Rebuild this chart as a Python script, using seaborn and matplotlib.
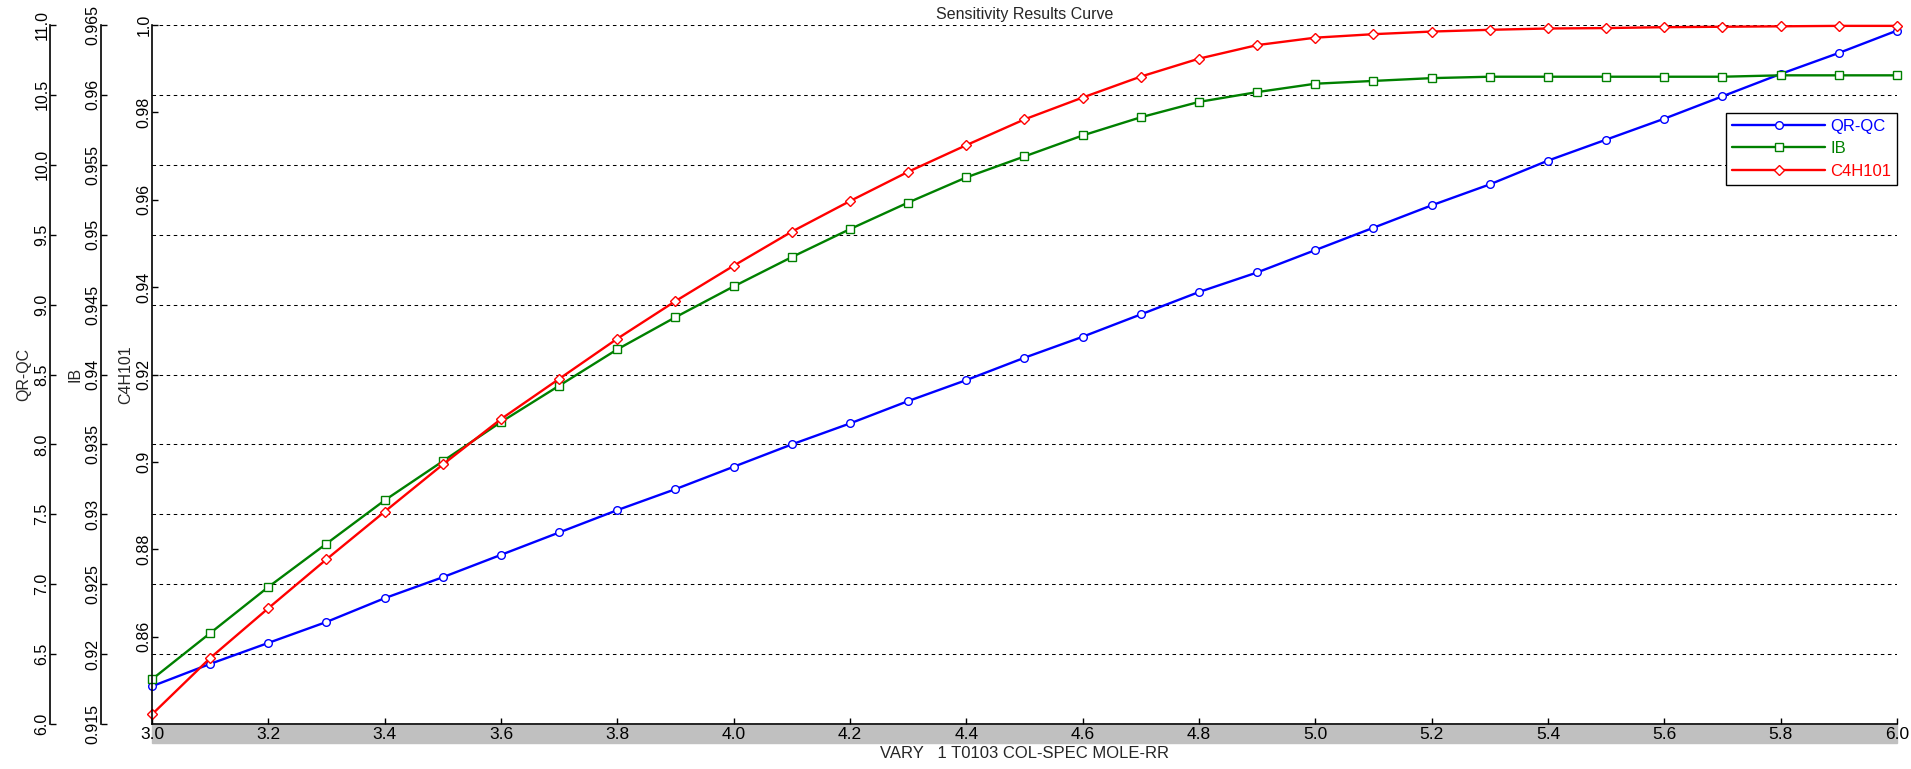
import numpy as np
import seaborn as sns
import matplotlib.pyplot as plt
from matplotlib.patches import Rectangle
from matplotlib.ticker import FuncFormatter, MultipleLocator

# Datos de la curva de sensibilidad
rr = [3.0, 3.1, 3.2, 3.3, 3.4, 3.5, 3.6, 3.7, 3.8, 3.9, 4.0, 4.1, 4.2, 4.3, 4.4, 4.5,
      4.6, 4.7, 4.8, 4.9, 5.0, 5.1, 5.2, 5.3, 5.4, 5.5, 5.6, 5.7, 5.8, 5.9, 6.0]
qr_qc = [6.27, 6.43, 6.58, 6.73, 6.90, 7.05, 7.21, 7.37, 7.53, 7.68, 7.84, 8.00, 8.15,
         8.31, 8.46, 8.62, 8.77, 8.93, 9.09, 9.23, 9.39, 9.55, 9.71, 9.86, 10.03, 10.18,
         10.33, 10.49, 10.65, 10.80, 10.96]
ib = [0.9182, 0.9215, 0.9248, 0.9279, 0.9310, 0.9338, 0.9366, 0.9392, 0.9418, 0.9441,
      0.9463, 0.9484, 0.9504, 0.9523, 0.9541, 0.9556, 0.9571, 0.9584, 0.9595, 0.9602,
      0.9608, 0.9610, 0.9612, 0.9613, 0.9613, 0.9613, 0.9613, 0.9613, 0.9614, 0.9614,
      0.9614]
c4h101 = [0.8422, 0.8551, 0.8665, 0.8777, 0.8886, 0.8994, 0.9098, 0.9190, 0.9282,
          0.9368, 0.9449, 0.9527, 0.9597, 0.9664, 0.9725, 0.9784, 0.9834, 0.9882,
          0.9923, 0.9954, 0.9971, 0.9979, 0.9985, 0.9989, 0.9992, 0.9993, 0.9995,
          0.9996, 0.9997, 0.9998, 0.9998]

sns.set_style('white')
plt.rcParams['font.family'] = ['Liberation Sans', 'DejaVu Sans']
fs = 11.5

W, H = 1911, 769
fig = plt.figure(figsize=(W / 100, H / 100), dpi=100)
left, right, top, bottom = 152, 1897, 25, 724
ax = fig.add_axes([left / W, 1 - bottom / H, (right - left) / W, (bottom - top) / H])
ax_ib = ax.twinx()
ax_c4 = ax.twinx()

# Banda gris bajo el eje x
fig.add_artist(Rectangle((left / W, 1 - 743 / H), (right - left) / W, 18 / H,
                         transform=fig.transFigure, color='#c0c0c0', zorder=-1))

estilo = dict(markersize=5.5, markerfacecolor='white', markeredgewidth=1,
              linewidth=1.7, clip_on=False)
sns.lineplot(x=rr, y=qr_qc, ax=ax, color='#0000ff', marker='o',
             markeredgecolor='#0000ff', label='QR-QC', legend=False, **estilo)
sns.lineplot(x=rr, y=ib, ax=ax_ib, color='#008000', marker='s',
             markeredgecolor='#008000', label='IB', legend=False, **estilo)
sns.lineplot(x=rr, y=c4h101, ax=ax_c4, color='#ff0000', marker='D',
             markeredgecolor='#ff0000', label='C4H101', legend=False,
             **{**estilo, 'markersize': 5})

offsets = {ax: (left - 50) / (right - left), ax_ib: (left - 101) / (right - left), ax_c4: 0}
for a in (ax, ax_ib, ax_c4):
    a.yaxis.tick_left()
    a.yaxis.set_label_position('left')
    for s in ('top', 'right'):
        a.spines[s].set_visible(False)
    a.spines['left'].set_visible(True)
    a.spines['left'].set_position(('axes', -offsets[a]))
    a.spines['left'].set_color('black')
    a.spines['left'].set_linewidth(1.2)
    a.tick_params(axis='y', direction='in', length=4, width=1, pad=0.5,
                  labelsize=fs, labelrotation=90, colors='black')
    a.set_xlim(3.0, 6.0)
for a in (ax_ib, ax_c4):
    a.spines['bottom'].set_visible(False)

ax.spines['bottom'].set_color('black')
ax.spines['bottom'].set_linewidth(1.2)

ax.set_ylim(6.0, 11.0)
ax.yaxis.set_major_locator(MultipleLocator(0.5))
ax.yaxis.set_major_formatter(FuncFormatter(lambda v, p: f'{v:.1f}'))

ax_ib.set_ylim(0.915, 0.965)
ax_ib.set_yticks(np.arange(0.915, 0.9651, 0.005))
ax_ib.yaxis.set_major_formatter(FuncFormatter(lambda v, p: f'{round(v, 3):g}'))

ax_c4.set_ylim(0.84, 1.0)
ax_c4.set_yticks(np.arange(0.86, 1.0001, 0.02))
ax_c4.yaxis.set_major_formatter(
    FuncFormatter(lambda v, p: '1.0' if abs(v - 1) < 1e-9 else f'{round(v, 2):g}'))

for a in (ax, ax_ib, ax_c4):
    for lab in a.get_yticklabels():
        lab.set_va('center')

ax.set_xticks(np.arange(3.0, 6.001, 0.2))
ax.xaxis.set_major_formatter(FuncFormatter(lambda v, p: f'{v:.1f}'))
ax.tick_params(axis='x', direction='in', length=4, width=1, pad=2, labelsize=12.5,
               colors='black', bottom=True)

# Lineas de referencia horizontales
ax.grid(axis='y', color='black', linestyle=(0, (3.4, 3.4)), linewidth=0.75)
ax.grid(axis='x', visible=False)

ax.set_ylabel('QR-QC', fontsize=fs, labelpad=2)
ax_ib.set_ylabel('IB', fontsize=fs, labelpad=2)
ax_c4.set_ylabel('C4H101', fontsize=fs, labelpad=2)
ax.set_xlabel('')
ax_c4.set_title('Sensitivity Results Curve', fontsize=fs, pad=4)
fig.text((left + right) / 2 / W, 1 - 753 / H, 'VARY   1 T0103 COL-SPEC MOLE-RR',
         ha='center', va='center', fontsize=12)

handles = []
labels = []
for a in (ax, ax_ib, ax_c4):
    h, l = a.get_legend_handles_labels()
    handles += h
    labels += l
leg = ax_c4.legend(handles, labels, loc='upper right', bbox_to_anchor=(1.0, (bottom - 113) / (bottom - top)),
                   borderaxespad=0, fontsize=12, handlelength=5.6, handletextpad=0.3,
                   labelspacing=0.45, borderpad=0.35, fancybox=False, framealpha=1,
                   edgecolor='black', labelcolor='linecolor')
leg.get_frame().set_linewidth(1)

fig.savefig('out.png', dpi=100)
